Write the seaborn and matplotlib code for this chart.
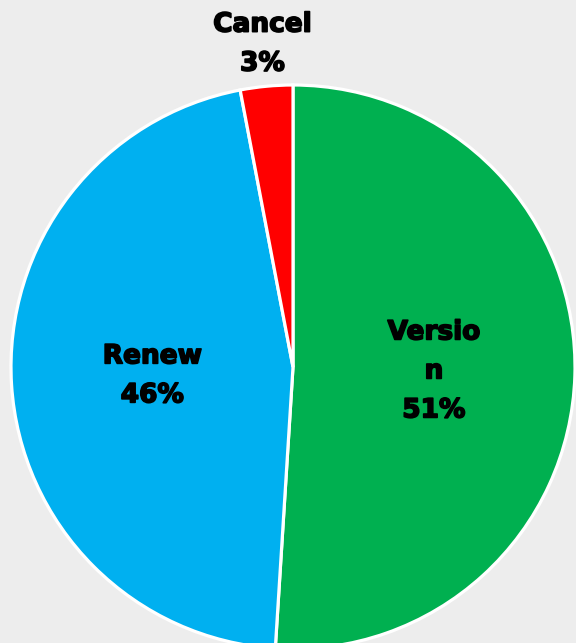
import numpy as np
import matplotlib
matplotlib.use("Agg")
import matplotlib.pyplot as plt
import matplotlib.patheffects as pe
import seaborn as sns

# chart data
categories = ["Version", "Renew", "Cancel"]
label_texts = ["Versio\nn", "Renew", "Cancel"]
shares = [51, 46, 3]
colors = ["#00B050", "#00B0F0", "#FF0000"]
label_dist = [0.5, 0.5, 1.15]

sns.set_style("white")
plt.rcParams["font.family"] = ["DejaVu Sans"]

fig = plt.figure(figsize=(5.76, 6.43), dpi=100)
fig.patch.set_facecolor("#EDEDED")
ax = fig.add_axes([0, 0, 1, 1])
ax.set_facecolor("#EDEDED")

# pixel-like coordinates, pie centre sits low so its bottom is cut off
center = (293, 643 - 367)
radius = 282

wedges, _ = ax.pie(
    shares,
    colors=colors,
    startangle=90,
    counterclock=False,
    center=center,
    radius=radius,
    wedgeprops={"edgecolor": "white", "linewidth": 2.3},
)

# heavy, Arial-Black-like labels
heavy = [pe.withStroke(linewidth=1.2, foreground="black")]
for w, txt, pct, d in zip(wedges, label_texts, shares, label_dist):
    mid = np.deg2rad((w.theta1 + w.theta2) / 2)
    x = center[0] + d * radius * np.cos(mid)
    y = center[1] + d * radius * np.sin(mid)
    ax.text(x, y, f"{txt}\n{pct}%", ha="center", va="center",
            fontsize=19, fontweight="heavy", color="black",
            linespacing=1.65, path_effects=heavy)

ax.set_xlim(0, 576)
ax.set_ylim(0, 643)
ax.set_aspect("equal")
ax.axis("off")

fig.savefig("out.png", dpi=100, facecolor=fig.get_facecolor())
